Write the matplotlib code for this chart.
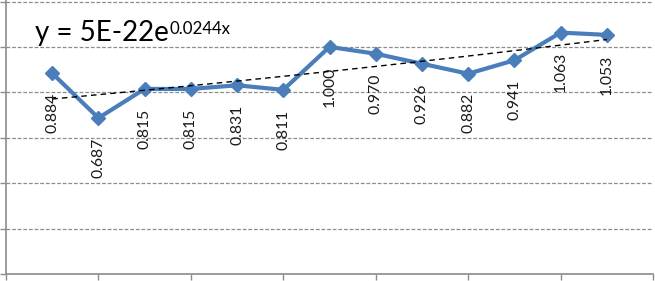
import numpy as np
import matplotlib
matplotlib.use("Agg")
import matplotlib.pyplot as plt

# Data
years = [2000, 2001, 2002, 2003, 2004, 2005, 2006, 2007, 2008, 2009, 2010, 2011, 2012]
values = [0.884, 0.687, 0.815, 0.815, 0.831, 0.811, 1.000, 0.970, 0.926, 0.882, 0.941, 1.063, 1.053]
x_ticks = list(range(1999, 2014, 2))
y_ticks = [0, 0.2, 0.4, 0.6, 0.8, 1.0, 1.2]
eq_base = "y = 5E-22e"
eq_exp = "0.0244x"

plt.rcParams['font.family'] = ['Lato', 'DejaVu Sans']

W, H = 655, 281
fig = plt.figure(figsize=(W / 100, H / 100), dpi=100)
ax = fig.add_axes([6 / W, 7 / H, 647 / W, 274 / H])

blue = '#4A7EBB'
gray = '#8C8C8C'

ax.plot(years, values, color=blue, lw=3.0, marker='D', markersize=7,
        markerfacecolor=blue, markeredgecolor=blue, zorder=3, clip_on=False)

# exponential trendline (least squares on log values, like Excel)
slope, icpt = np.polyfit(years, np.log(values), 1)
xs = np.linspace(years[0], years[-1], 50)
ax.plot(xs, np.exp(icpt + slope * xs), color='black', lw=1.0,
        linestyle=(0, (4, 3)), zorder=4)

for x, v in zip(years, values):
    ax.annotate(f"{v:.3f}", (x, v), xytext=(0, -14), textcoords='offset points',
                rotation=90, ha='center', va='top', fontsize=11.3, color='#1a1a1a')

t = fig.text(35 / W, 1 - 41 / H, eq_base, fontsize=20, color='black', va='baseline')
fig.canvas.draw()
bb = t.get_window_extent()
fig.text((bb.x1 + 0.5) / W, 1 - 34 / H, eq_exp, fontsize=12.2, color='black', va='baseline')

ax.set_xlim(1999, 2013)
ax.set_ylim(0, 1.2 * 274 / 272.5)
ax.set_xticks(x_ticks)
ax.set_yticks(y_ticks)
ax.tick_params(axis='both', direction='out', length=4.3, width=1, color=gray,
               labelbottom=False, labelleft=False)
ax.yaxis.grid(True, color=gray, linestyle=(0, (3, 1.5)), lw=0.9)
ax.set_axisbelow(True)
for side in ['top', 'right']:
    ax.spines[side].set_visible(False)
for side in ['left', 'bottom']:
    ax.spines[side].set_color(gray)
    ax.spines[side].set_linewidth(1.2)

fig.savefig('out.png', dpi=100)
